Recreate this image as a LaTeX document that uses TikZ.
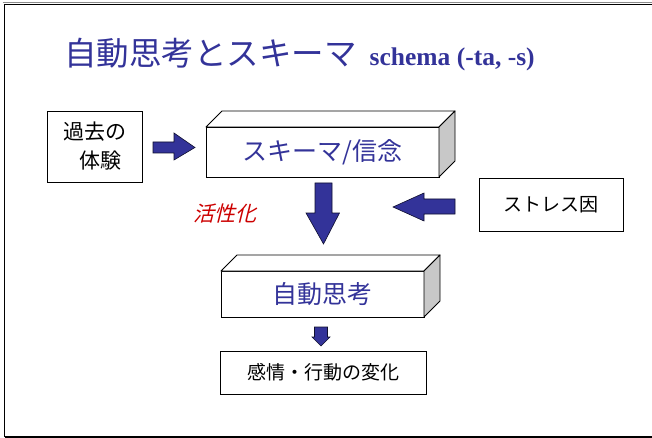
\documentclass[tikz,border=0pt]{standalone}
\usepackage{fontspec}
\setmainfont{Liberation Serif}
\newfontfamily\jp{Noto Sans CJK JP}
\newfontfamily\jpit[FakeSlant=0.25]{Noto Sans CJK JP}
\definecolor{navy}{RGB}{51,51,153}
\definecolor{arrowfill}{RGB}{51,51,153}
\definecolor{sidegray}{RGB}{200,200,200}
\definecolor{actred}{RGB}{204,0,0}
\begin{document}
\begin{tikzpicture}[x=1pt,y=-1pt,
  plainbox/.style={draw=black,line width=0.9pt,fill=white,inner sep=0pt,outer sep=0pt,font=\jp\fontsize{19}{29}\selectfont,align=center},
  frontbox/.style={draw=black,line width=0.9pt,fill=white,inner sep=0pt,outer sep=0pt,font=\jp\fontsize{25}{30}\selectfont,text=navy},
  facetop/.style={draw=black,line width=0.9pt,fill=white,line join=round},
  faceside/.style={draw=black,line width=0.9pt,fill=sidegray,line join=round},
  blockarrow/.style={draw=black!70!navy,line width=0.6pt,fill=arrowfill,line join=miter}]
\useasboundingbox (0,0) rectangle (652,438);
% slide frame
\draw[black!45,line width=0.6pt] (2.5,2.5) -- (660,2.5);
\draw[black,line width=1.6pt] (4.5,437) -- (4.5,4.5) -- (660,4.5);
\draw[black,line width=1.6pt] (4.5,437) -- (660,437);
% title
\node[anchor=base west,inner sep=0pt,text=navy] (title) at (64,66)
  {{\jp\fontsize{32.5}{36}\selectfont 自動思考とスキーマ}\hspace{13pt}{\fontsize{25.5}{28}\selectfont\bfseries schema (-ta, -s)}};
% past experience
\node[plainbox,minimum width=95pt,minimum height=71pt,font=\jp\fontsize{21}{29}\selectfont] (past) at (94.5,146.5)
  {過去の\\\hspace{0.6em}体験};
% schema 3D box
\node[frontbox,minimum width=233pt,minimum height=50pt] (schema) at (322.5,152) {スキーマ/信念};
\draw[facetop] (schema.north west) -- ++(16,-16) -- ([shift={(16,-16)}]schema.north east) -- (schema.north east) -- cycle;
\draw[faceside] (schema.north east) -- ++(16,-16) -- ([shift={(16,-16)}]schema.south east) -- (schema.south east) -- cycle;
% stress box
\node[plainbox,minimum width=144pt,minimum height=53pt] (stress) at (551,204.5) {ストレス因};
% automatic thought 3D box
\node[frontbox,minimum width=203pt,minimum height=46pt] (auto) at (322.5,294) {自動思考};
\draw[facetop] (auto.north west) -- ++(16,-16) -- ([shift={(16,-16)}]auto.north east) -- (auto.north east) -- cycle;
\draw[faceside] (auto.north east) -- ++(16,-16) -- ([shift={(16,-16)}]auto.south east) -- (auto.south east) -- cycle;
% feelings box
\node[plainbox,minimum width=206pt,minimum height=43pt] (feel) at (323,372.5) {感情・行動の変化};
% activation label
\node[inner sep=0pt,text=actred,font=\jpit\fontsize{21}{24}\selectfont] (act) at (225,214) {活性化};
% arrows
\coordinate (a1) at (153,147.5);
\draw[blockarrow] (a1) ++(0,-5.5) -- ++(21,0) -- ++(0,-9) -- (195,147.5) -- (174,160) -- ++(0,-7) -- ++(-21,0) -- cycle;
\coordinate (a2) at (323.5,183);
\draw[blockarrow] (a2) ++(-8.5,0) -- ++(17,0) -- ++(0,30) -- ++(7.5,0) -- (323.5,244) -- (306,213) -- ++(9,0) -- cycle;
\coordinate (a3) at (455,206.5);
\draw[blockarrow] (a3) ++(0,-7.5) -- ++(-31,0) -- ++(0,-6) -- (393,207) -- (424,221) -- ++(0,-7) -- ++(31,0) -- cycle;
\coordinate (a4) at (321,327);
\draw[blockarrow] (a4) ++(-6.5,0) -- ++(13,0) -- ++(0,10) -- ++(2.5,0) -- (321,346) -- (312,337) -- ++(2.5,0) -- cycle;
\end{tikzpicture}
\end{document}
